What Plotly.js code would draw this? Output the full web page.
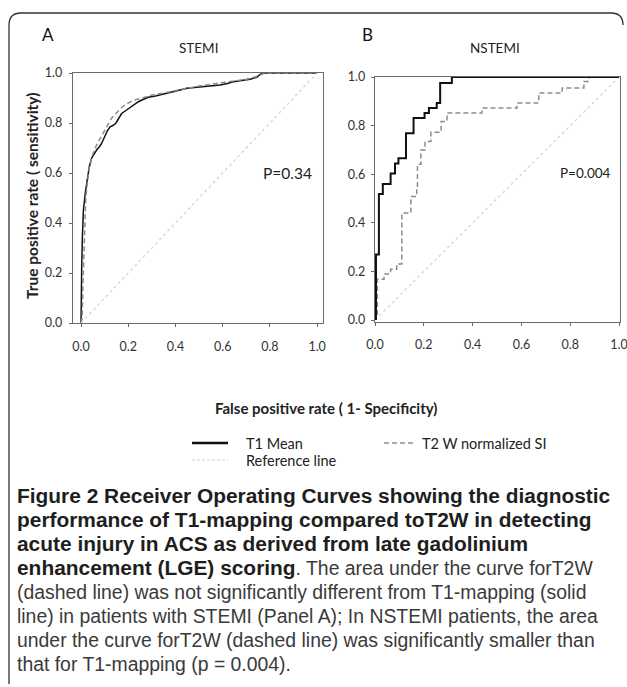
<!DOCTYPE html>
<html>
<head>
<meta charset="utf-8">
<script src="https://cdn.plot.ly/plotly-3.0.1.min.js"></script>
<style>html,body{margin:0;padding:0;background:#fff;}#chart{width:627px;height:687px;}</style>
</head>
<body>
<div id="chart"></div>
<script>
// ---------- data ----------
const tickVals = [0, 0.2, 0.4, 0.6, 0.8, 1.0];
const tickText = ["0.0", "0.2", "0.4", "0.6", "0.8", "1.0"];

// Panel A – STEMI
const stemiT1_fpr = [0, 0, 0.003, 0.006, 0.01, 0.018, 0.027, 0.031, 0.035, 0.045, 0.059, 0.068, 0.078, 0.088, 0.1, 0.112, 0.123, 0.135, 0.148, 0.16, 0.172, 0.19, 0.208, 0.225, 0.243, 0.265, 0.285, 0.315, 0.349, 0.37, 0.391, 0.42, 0.448, 0.48, 0.518, 0.55, 0.589, 0.62, 0.645, 0.68, 0.716, 0.744, 0.76, 0.772, 1.0];
const stemiT1_tpr = [0, 0.13, 0.23, 0.35, 0.45, 0.52, 0.57, 0.6, 0.625, 0.66, 0.685, 0.695, 0.705, 0.72, 0.745, 0.77, 0.785, 0.79, 0.8, 0.82, 0.838, 0.85, 0.863, 0.872, 0.885, 0.895, 0.903, 0.908, 0.915, 0.92, 0.925, 0.932, 0.939, 0.942, 0.945, 0.948, 0.952, 0.958, 0.965, 0.97, 0.975, 0.983, 0.995, 1.0, 1.0];
const stemiT2_fpr = [0, 0.005, 0.008, 0.012, 0.015, 0.02, 0.028, 0.035, 0.045, 0.055, 0.07, 0.085, 0.1, 0.115, 0.13, 0.15, 0.17, 0.19, 0.22, 0.26, 0.3, 0.35, 0.4, 0.45, 0.5, 0.55, 0.6, 0.65, 0.7, 0.74, 0.78, 1.0];
const stemiT2_tpr = [0, 0.02, 0.15, 0.3, 0.42, 0.5, 0.57, 0.62, 0.66, 0.69, 0.72, 0.745, 0.77, 0.8, 0.82, 0.84, 0.86, 0.875, 0.89, 0.9, 0.912, 0.92, 0.93, 0.94, 0.948, 0.955, 0.962, 0.97, 0.975, 0.985, 1.0, 1.0];

// Panel B – NSTEMI
const nstemiT1_fpr = [0.004, 0.004, 0.016, 0.032, 0.064, 0.082, 0.096, 0.127, 0.158, 0.203, 0.221, 0.253, 0.267, 0.315, 1.0];
const nstemiT1_tpr = [0, 0.27, 0.519, 0.56, 0.603, 0.644, 0.666, 0.769, 0.831, 0.852, 0.872, 0.893, 0.975, 1.0, 1.0];
const nstemiT2_fpr = [0.0096, 0.0096, 0.037, 0.064, 0.089, 0.11, 0.147, 0.171, 0.174, 0.188, 0.205, 0.229, 0.271, 0.295, 0.438, 0.582, 0.671, 0.767, 0.856, 0.877, 1.0];
const nstemiT2_tpr = [0.021, 0.168, 0.19, 0.209, 0.231, 0.44, 0.508, 0.543, 0.641, 0.70, 0.735, 0.773, 0.817, 0.852, 0.872, 0.893, 0.934, 0.955, 0.982, 1.0, 1.0];

// Reference (chance) line
const refX = [0, 1];
const refY = [0, 1];

const seriesNames = ["T1 Mean", "T2 W normalized SI", "Reference line"];
const panelLabels = ["A", "B"];
const panelTitles = ["STEMI", "NSTEMI"];
const pValues = ["P=0.34", "P=0.004"];
const xTitle = "False positive rate ( 1- Specificity)";
const yTitle = "True positive rate ( sensitivity)";
// caption lines: [bold part, regular part]
const captionLines = [
  ["Figure 2 Receiver Operating Curves showing the diagnostic", ""],
  ["performance of T1-mapping compared toT2W in detecting", ""],
  ["acute injury in ACS as derived from late gadolinium", ""],
  ["enhancement (LGE) scoring", ". The area under the curve forT2W"],
  ["", "(dashed line) was not significantly different from T1-mapping (solid"],
  ["", "line) in patients with STEMI (Panel A); In NSTEMI patients, the area"],
  ["", "under the curve forT2W (dashed line) was significantly smaller than"],
  ["", "that for T1-mapping (p = 0.004)."]
];

// ---------- layout helpers ----------
const W = 627, H = 687;
const px = v => v / W;
const py = v => 1 - v / H;
const FONT = "Lato, 'Open Sans', sans-serif";
const CAPFONT = "'Liberation Sans', Arial, sans-serif";

const t1Style = {color: "#111", width: 1.6, dash: "solid"};
const t2Style = {color: "#8c8c8c", width: 1.5, dash: "5px,3px"};
const refStyle = {color: "#cfcfcf", width: 1.1, dash: "3px,3px"};

const traces = [
  {x: stemiT1_fpr, y: stemiT1_tpr, xaxis: "x", yaxis: "y", mode: "lines", name: seriesNames[0], line: Object.assign({}, t1Style, {width: 1.5})},
  {x: stemiT2_fpr, y: stemiT2_tpr, xaxis: "x", yaxis: "y", mode: "lines", name: seriesNames[1], line: t2Style},
  {x: refX, y: refY, xaxis: "x", yaxis: "y", mode: "lines", name: seriesNames[2], line: refStyle},
  {x: nstemiT2_fpr, y: nstemiT2_tpr, xaxis: "x2", yaxis: "y2", mode: "lines", name: seriesNames[1], line: Object.assign({shape: "hv"}, t2Style)},
  {x: refX, y: refY, xaxis: "x2", yaxis: "y2", mode: "lines", name: seriesNames[2], line: refStyle},
  {x: nstemiT1_fpr, y: nstemiT1_tpr, xaxis: "x2", yaxis: "y2", mode: "lines", name: seriesNames[0], line: Object.assign({shape: "hv"}, t1Style, {width: 2})}
];

const tickFont = {family: FONT, size: 12.5, color: "#333"};
const axisBase = {
  tickvals: tickVals, ticktext: tickText, ticks: "outside", ticklen: 3, tickcolor: "#666", tickwidth: 1,
  showline: true, mirror: true, linecolor: "#6a6a6a", linewidth: 1.2, ticklabeloverflow: "allow",
  showgrid: false, zeroline: false, tickfont: tickFont, fixedrange: true
};

const annotations = [];
const lblX = [48, 367];
const ttlX = [198, 495];
const pX = [287, 585];
const pSize = [15.5, 13.5];
for (let i = 0; i < 2; i++) {
  annotations.push({xref: "paper", yref: "paper", x: px(lblX[i]), y: py(35), text: panelLabels[i], showarrow: false, xanchor: "center", yanchor: "middle", font: {family: FONT, size: 17, color: "#111"}});
  annotations.push({xref: "paper", yref: "paper", x: px(ttlX[i]), y: py(48), text: panelTitles[i], showarrow: false, xanchor: "center", yanchor: "middle", font: {family: FONT, size: 13.5, color: "#222"}});
  annotations.push({xref: "paper", yref: "paper", x: px(pX[i]), y: py(173), text: pValues[i], showarrow: false, xanchor: "center", yanchor: "middle", font: {family: FONT, size: pSize[i], color: "#222"}});
}
annotations.push({xref: "paper", yref: "paper", x: px(326), y: py(408), text: "<b>" + xTitle + "</b>", showarrow: false, xanchor: "center", yanchor: "middle", font: {family: FONT, size: 15, color: "#222"}});
annotations.push({xref: "paper", yref: "paper", x: px(32), y: py(196), text: "<b>" + yTitle + "</b>", textangle: -90, showarrow: false, xanchor: "center", yanchor: "middle", font: {family: FONT, size: 15.5, color: "#222"}});

// legend (drawn as text + sample line shapes)
const legendRows = [
  {name: seriesNames[0], x0: 192, x1: 228, tx: 244, y: 443, style: {color: "#111", width: 2.5}},
  {name: seriesNames[1], x0: 384, x1: 416, tx: 420, y: 443, style: {color: "#8c8c8c", width: 1.5, dash: "5px,3px"}},
  {name: seriesNames[2], x0: 192, x1: 228, tx: 244, y: 460, style: {color: "#cfcfcf", width: 1.2, dash: "3px,2px"}}
];
const shapes = [];
legendRows.forEach(r => {
  shapes.push({type: "line", xref: "paper", yref: "paper", x0: px(r.x0), x1: px(r.x1), y0: py(r.y), y1: py(r.y), line: r.style});
  annotations.push({xref: "paper", yref: "paper", x: px(r.tx), y: py(r.y), text: r.name, showarrow: false, xanchor: "left", yanchor: "middle", font: {family: FONT, size: 14.5, color: "#222"}});
});

// caption as one multi-line text block (line spacing = 1.3 * 18.46 = 24px)
const capText = captionLines.map(([b, r]) =>
  (b ? `<span style="font-size:20.9px"><b>${b}</b></span>` : "") +
  (r ? `<span style="font-size:19.4px;fill:#3a3a3a">${r}</span>` : "")
).join("<br>");
annotations.push({xref: "paper", yref: "paper", x: px(15), y: py(482), text: capText, showarrow: false, xanchor: "left", yanchor: "top", align: "left", font: {family: CAPFONT, size: 18.46, color: "#1e1e1e"}});

const framePath = `M ${px(9)},${py(684)} L ${px(9)},${py(25)} Q ${px(9)},${py(13)} ${px(21)},${py(13)} L ${px(611)},${py(13)} Q ${px(623)},${py(13)} ${px(623)},${py(25)}`;
shapes.push({type: "path", xref: "paper", yref: "paper", path: framePath, line: {color: "#333", width: 1.3}});

const layout = {
  width: W, height: H,
  margin: {l: 0, r: 0, t: 0, b: 0, pad: 0},
  paper_bgcolor: "#fff", plot_bgcolor: "#fff",
  showlegend: false,
  xaxis: Object.assign({}, axisBase, {domain: [px(73), px(323)], range: [-0.034, 1.025], anchor: "y", ticklabelstandoff: 9}),
  yaxis: Object.assign({}, axisBase, {domain: [py(323), py(73)], range: [0, 1], anchor: "x", ticklabelstandoff: 4}),
  xaxis2: Object.assign({}, axisBase, {domain: [px(375), px(620)], range: [0, 1.004], anchor: "y2", ticklabelstandoff: 8}),
  yaxis2: Object.assign({}, axisBase, {domain: [py(322), py(77)], range: [-0.008, 1.0], anchor: "x2", ticklabelstandoff: 3}),
  annotations: annotations,
  shapes: shapes
};

Plotly.newPlot("chart", traces, layout, {displayModeBar: false, staticPlot: true});
</script>
</body>
</html>
